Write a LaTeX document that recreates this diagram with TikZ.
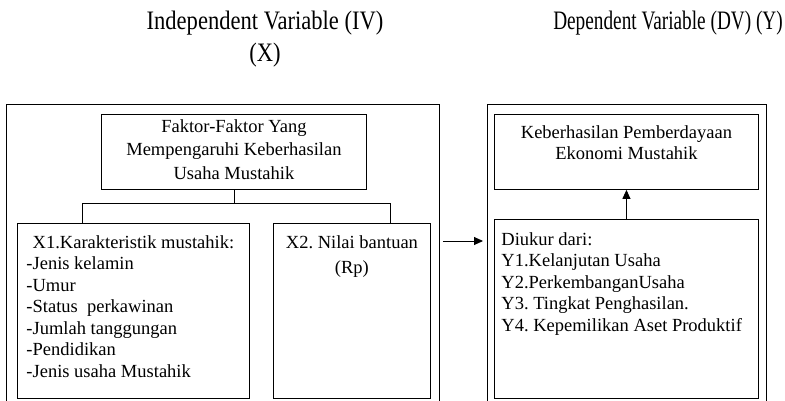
\documentclass[tikz,border=0pt]{standalone}
\usepackage{fontspec}
\setmainfont{Liberation Serif}
\usetikzlibrary{arrows.meta}
\frenchspacing
\newcommand{\topfill}[4]{\parbox[c][#1][t]{#2}{\vspace*{#3}#4}}
\newcommand{\tallhead}[2]{\scalebox{#1}[1.3]{\begin{tabular}{@{}c@{}}#2\end{tabular}}}

\begin{document}
\begin{tikzpicture}[x=1pt,y=-1pt,
  box/.style={draw,line width=0.9pt,inner sep=0pt,anchor=north west,font=\fontsize{18.5}{21.5}\selectfont},
  frame/.style={draw,line width=0.9pt,inner sep=0pt,anchor=north west},
  head/.style={inner sep=0pt,font=\fontsize{20.5}{24.5}\selectfont},
  link/.style={line width=0.9pt},
  arr/.style={-{Triangle[length=9pt,width=8pt]},line width=0.9pt}]
\useasboundingbox (0,0) rectangle (785,401);
\clip (0,0) rectangle (785,401);
% headings
\node[head] (ivhead) at (265,39) {\tallhead{1.1}{Independent Variable (IV)\\(X)}};
\node[head,anchor=east] (dvhead) at (783,23) {\tallhead{0.94}{Dependent Variable (DV) (Y)}};
% outer frames, open at the bottom
\node[frame,minimum width=433pt,minimum height=330pt] (outerX) at (6,104) {};
\node[frame,minimum width=279pt,minimum height=330pt] (outerY) at (487,104) {};
% independent side
\node[box,font=\fontsize{18.5}{23.5}\selectfont] (faktor) at (101,114) {\topfill{75pt}{265pt}{5pt}{\centering Faktor-Faktor Yang\\Mempengaruhi Keberhasilan\\Usaha Mustahik}};
\node[box,inner xsep=9pt] (x1) at (17,223) {\topfill{175pt}{214pt}{12pt}{{\centering X1.Karakteristik mustahik:\par}\raggedright -Jenis kelamin\\-Umur\\-Status\ \ perkawinan\\-Jumlah tanggungan\\-Pendidikan\\-Jenis usaha Mustahik}};
\node[box] (x2) at (273,223) {\topfill{175pt}{157pt}{12pt}{\centering X2. Nilai bantuan\\[4pt](Rp)}};
% dependent side
\node[box] (kebY) at (494,114) {\topfill{75pt}{264pt}{11pt}{\centering Keberhasilan Pemberdayaan\\Ekonomi Mustahik}};
\node[box,inner xsep=7pt] (diukur) at (494,219) {\topfill{179pt}{250pt}{13pt}{\raggedright Diukur dari:\\Y1.Kelanjutan Usaha\\Y2.PerkembanganUsaha\\Y3. Tingkat Penghasilan.\\Y4. Kepemilikan Aset Produktif}};
% connectors
\draw[link] (faktor.south) -- ++(0,14) coordinate (fork);
\draw[link] ([xshift=-51pt]x1.north) |- (fork) -| ([xshift=38.5pt]x2.north);
\draw[arr] (diukur.north) -- (kebY.south);
\coordinate (arrowrow) at (0,241);
\draw[arr,shorten <=3pt,shorten >=4pt] (outerX.east |- arrowrow) -- (outerY.west |- arrowrow);
\end{tikzpicture}
\end{document}
